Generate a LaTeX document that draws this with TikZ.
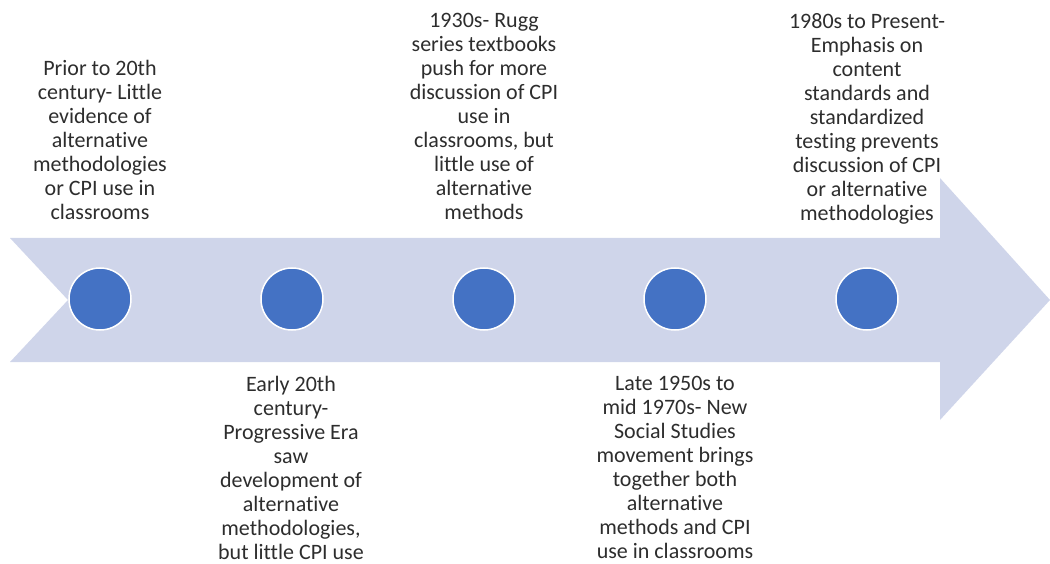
\documentclass[tikz,border=0pt]{standalone}
\usepackage{fontspec}
\setmainfont{Carlito}[Ligatures=NoCommon]
\definecolor{bandfill}{RGB}{207,213,234}
\definecolor{dotblue}{RGB}{68,114,196}
\definecolor{eratext}{RGB}{45,45,45}
\begin{document}
\begin{tikzpicture}[
			x=1pt, y=-1pt,
			dot/.style={circle, fill=dotblue, draw=white, line width=1.5pt, minimum size=62pt, inner sep=0pt},
			era/.style={align=center, inner sep=0pt, text=eratext, font=\fontsize{22}{24}\selectfont}
		]
		\useasboundingbox (0,0) rectangle (1050,564);

		% timeline arrow
		\fill[bandfill] (10,238) -- (940,238) -- (940,178) -- (1050,300) -- (940,420)
			-- (940,362) -- (10,362) -- (68,300) -- cycle;

		\node[dot] (d1) at (100,299) {};
		\node[dot] (d2) at (292,299) {};
		\node[dot] (d3) at (484,299) {};
		\node[dot] (d4) at (675,299) {};
		\node[dot] (d5) at (867,299) {};

		\node[era, anchor=north] (t1) at (100,60) {Prior to 20th\\century- Little\\evidence of\\alternative\\methodologies\\or CPI use in\\classrooms};
		\node[era, anchor=north] (t2) at (291,376) {Early 20th\\century-\\Progressive Era\\saw\\development of\\alternative\\methodologies,\\but little CPI use};
		\node[era, anchor=north] (t3) at (484,13) {1930s- Rugg\\series textbooks\\push for more\\discussion of CPI\\use in\\classrooms, but\\little use of\\alternative\\methods};
		\node[era, anchor=north] (t4) at (675,376) {Late 1950s to\\mid 1970s- New\\Social Studies\\movement brings\\together both\\alternative\\methods and CPI\\use in classrooms};
		\node[era, anchor=north] (t5) at (867,13) {1980s to Present-\\Emphasis on\\content\\standards and\\standardized\\testing prevents\\discussion of CPI\\or alternative\\methodologies};
	\end{tikzpicture}
\end{document}
